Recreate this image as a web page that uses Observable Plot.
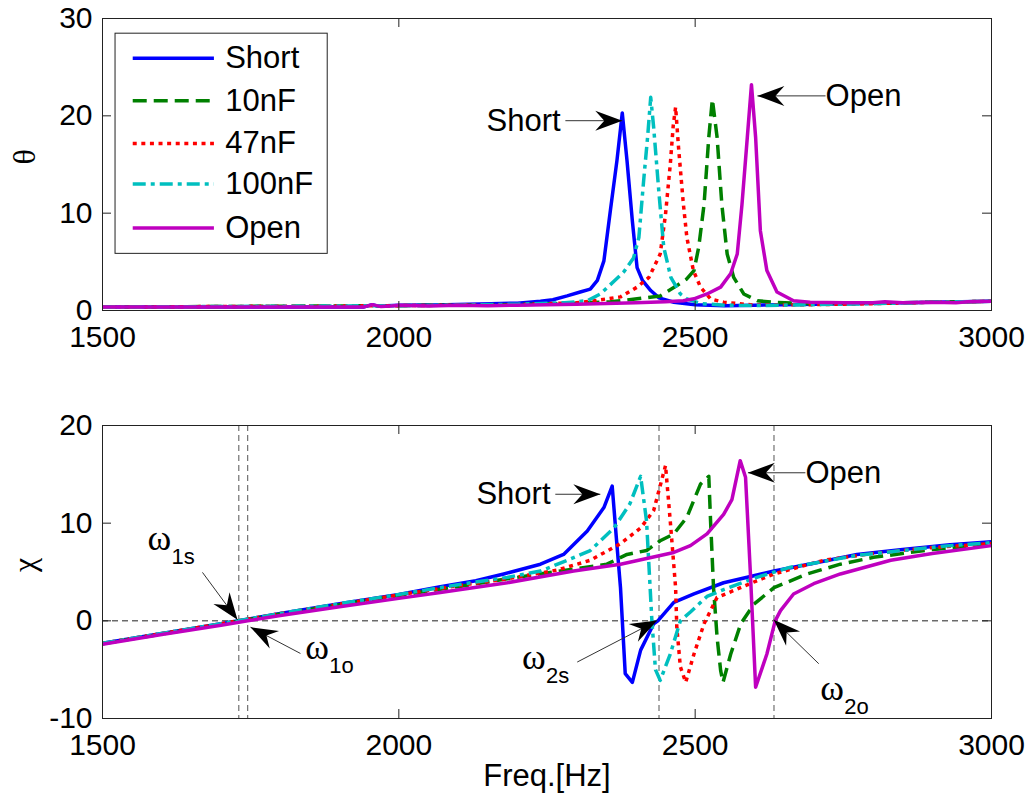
<!DOCTYPE html>
<html><head><meta charset="utf-8">
<script src="https://cdn.jsdelivr.net/npm/d3@7"></script>
<script src="https://cdn.jsdelivr.net/npm/@observablehq/plot@0.6"></script>
<style>
body{margin:0;background:#fff}
#chart{position:relative;width:1034px;height:809px;background:#fff}
#chart svg{display:block}
</style>
</head><body><div id="chart"></div>
<script>
// ---------- data ----------
const seriesNames = ["Short", "10nF", "47nF", "100nF", "Open"];
const xTicks = [1500, 2000, 2500, 3000];
const thetaTicks = [0, 10, 20, 30];
const chiTicks = [-10, 0, 10, 20];

// theta (top panel)
const thShortF = [1500,1940,1955,1965,1980,2000,2080,2155,2200,2239,2260,2284,2306,2323,2335,2346,2357,2368,2377,2385,2394,2402,2411,2425,2439,2464,2500,2550,2600,2650,2700,2800,2900,2950,3000];
const thShort  = [0.35,0.35,0.6,0.45,0.5,0.55,0.6,0.7,0.75,0.95,1.1,1.5,1.9,2.2,3.1,5.1,10.3,15.4,20.3,15.4,9.2,4.4,3.1,2.05,1.3,0.85,0.6,0.5,0.55,0.6,0.65,0.75,0.85,0.9,0.95];
const th10F = [1500,2000,2100,2200,2300,2357,2402,2441,2470,2485,2498,2506,2515,2523,2529,2537,2545,2554,2565,2582,2605,2632,2700,2800,2900,3000];
const th10  = [0.35,0.5,0.55,0.6,0.75,0.9,1.2,1.5,2.6,3.2,4.1,6.5,10.9,17.8,21.7,17.8,10.9,5.8,3.4,1.7,1.0,0.85,0.7,0.75,0.85,0.95];
const th47F = [1500,2000,2100,2200,2300,2329,2374,2402,2422,2441,2450,2458,2463,2467,2472,2480,2486,2497,2509,2526,2548,2600,2700,2800,2900,3000];
const th47  = [0.35,0.5,0.55,0.6,0.8,1.0,1.4,2.4,3.4,5.8,9.9,15,19,20.9,16.7,11,7.5,4.1,2.4,1.2,0.85,0.55,0.6,0.7,0.85,0.95];
const th100F = [1500,2000,2100,2200,2280,2318,2340,2363,2380,2396,2405,2413,2420,2425,2430,2439,2447,2459,2475,2486,2510,2550,2600,2700,2800,2900,3000];
const th100  = [0.35,0.5,0.55,0.65,0.8,1.0,1.7,3.0,4.0,5.4,7.5,13.3,18,21.9,18.8,12,6.5,3.4,1.7,1.2,0.7,0.55,0.5,0.6,0.7,0.85,0.95];
const thOpenF = [1500,1940,1955,1970,1985,2000,2050,2100,2150,2200,2300,2400,2450,2480,2498,2520,2543,2560,2571,2579,2588,2595,2602,2610,2621,2638,2666,2694,2750,2800,2820,2850,2900,2940,2960,3000];
const thOpen  = [0.35,0.35,0.6,0.4,0.45,0.55,0.45,0.55,0.5,0.55,0.65,0.8,0.9,1.0,1.2,1.7,2.4,3.8,5.8,10.9,17.8,23.2,17.8,8.2,4.1,1.9,1.0,0.85,0.8,0.8,0.9,0.8,0.85,0.8,0.9,0.95];

// chi (bottom panel)
const chShortF = [1500,1600,1700,1800,1900,2000,2070,2130,2177,2239,2278,2318,2346,2360,2367,2374,2382,2394,2408,2430,2437,2464,2498,2548,2633,2700,2773,2850,2930,3000];
const chShort  = [-2.3,-1.3,-0.3,0.75,1.75,2.7,3.5,4.1,4.8,5.8,6.8,9.2,11.6,13.8,8.5,3.4,-5.4,-6.3,-3.0,-0.3,0,1.9,2.75,3.9,5.1,5.9,6.8,7.3,7.8,8.1];
const ch10F = [1500,1600,1700,1800,1900,2000,2100,2183,2295,2351,2385,2418,2441,2464,2486,2509,2523,2526,2531,2537,2543,2547,2560,2577,2599,2633,2689,2745,2801,2900,3000];
const ch10  = [-2.35,-1.35,-0.35,0.7,1.65,2.6,3.5,4.3,5.3,5.8,6.8,7.2,8.2,8.9,10.6,14,14.8,10.2,3.4,-1.7,-5.1,-6.3,-3.4,-0.3,1.7,3.4,4.8,5.8,6.5,7.3,7.8];
const ch47F = [1500,1600,1700,1800,1900,2000,2100,2183,2267,2323,2374,2408,2430,2450,2458,2467,2469,2475,2484,2498,2515,2537,2565,2604,2633,2717,2800,2900,3000];
const ch47  = [-2.3,-1.3,-0.3,0.75,1.7,2.65,3.6,4.3,5.2,6.2,7.9,9.5,11.3,15.9,10.2,3.4,-0.65,-4.7,-6.3,-3.4,-0.3,2.4,3.1,4.1,4.8,6.2,6.9,7.5,7.9];
const ch100F = [1500,1600,1700,1800,1900,2000,2100,2183,2239,2284,2323,2363,2390,2408,2418,2427,2433,2441,2458,2475,2492,2520,2548,2604,2661,2700,2773,2850,2930,3000];
const ch100  = [-2.3,-1.3,-0.3,0.75,1.75,2.7,3.7,4.45,5.1,6.2,7.2,9.5,12,14.8,10.2,0,-5,-6.1,-3.4,0,0.9,2.5,3.2,4.45,5.5,5.9,6.7,7.2,7.7,8.0];
const chOpenF = [1500,1600,1700,1745,1800,1900,2000,2070,2183,2295,2374,2464,2492,2520,2548,2562,2576,2585,2593,2602,2621,2635,2644,2666,2700,2745,2830,2900,3000];
const chOpen  = [-2.4,-1.4,-0.45,0,0.55,1.45,2.3,2.9,3.9,5.1,5.8,7.0,7.7,8.9,10.9,12.4,16.4,14.7,5.1,-6.8,-3.4,0,1.05,2.75,3.8,4.8,6.2,6.9,7.7];

// resonance markers (Hz)
const omegaFreqs = [1730, 1745, 2439, 2633];

// annotations
const topNotes = [
  {label: "Short", x: 2273, y: 19.5, x1: 2281, y1: 19.5, x2: 2377, y2: 19.5, anchor: "end"},
  {label: "Open",  x: 2720, y: 22.05, x1: 2720, y1: 22.05, x2: 2605, y2: 22.05, anchor: "start"}
];
const botNotes = [
  {label: "Short", x: 2256, y: 12.96, x1: 2264, y1: 12.96, x2: 2340, y2: 12.96, anchor: "end"},
  {label: "Open",  x: 2686, y: 15.16, x1: 2686, y1: 15.16, x2: 2589, y2: 15.16, anchor: "start"}
];
const omegaNotes = [
  {sub: "1s", x: 1576, y: 7.24,  x1: 1668.7, y1: 4.96,  x2: 1727.8, y2: 0.1},
  {sub: "1o", x: 1842, y: -3.88, x1: 1834,   y1: -3.34, x2: 1749.7, y2: -0.65},
  {sub: "2s", x: 2208, y: -4.9,  x1: 2301,   y1: -4.22, x2: 2436,   y2: 0.03},
  {sub: "2o", x: 2711, y: -8.13, x1: 2708.5, y1: -4.39, x2: 2632.6, y2: 0.1}
];

// legend placement (data units of the top panel)
const legendBox = {x1: 1522, x2: 1880, y1: 28.44, y2: 5.82};
const legendRows = [25.92, 21.54, 17.16, 13.0, 8.48];
const legendLine = {x1: 1551, x2: 1688, xText: 1707};

// ---------- styles ----------
const colors = ["#0000FF", "#008000", "#FF0000", "#00BFBF", "#BF00BF"];
const dashes = [null, "14,7", "4,4.6", "13,5,4,5", null];
const LW = 3.5;
const xDomain = [1500, 3000];

const zip = (F, V) => F.map((f, i) => ({f, v: V[i]}));
const thetaData = [zip(thShortF, thShort), zip(th10F, th10), zip(th47F, th47), zip(th100F, th100), zip(thOpenF, thOpen)];
const chiData = [zip(chShortF, chShort), zip(ch10F, ch10), zip(ch47F, ch47), zip(ch100F, ch100), zip(chOpenF, chOpen)];

const W = 1034, ML = 102, MR = 43, TICK = 9;
const frameW = W - ML - MR;
const SANS = "'Liberation Sans', Arial, Helvetica, sans-serif";
const SERIF = "'Liberation Serif', 'Times New Roman', serif";

const arrowHead = {draw(ctx) {
  ctx.moveTo(0, 0); ctx.lineTo(-27, -10); ctx.lineTo(-18, 0); ctx.lineTo(-27, 10); ctx.closePath();
}};

function panel({height, mt, mb, yDomain, yTicks, ylabel, data, notes, omega, xlabel, legend}) {
  const frameH = height - mt - mb;
  const kx = frameW / (xDomain[1] - xDomain[0]);
  const ky = frameH / (yDomain[1] - yDomain[0]);
  const ang = d => Math.atan2(-(d.y2 - d.y1) * ky, (d.x2 - d.x1) * kx) * 180 / Math.PI;
  const marks = [];
  if (omega) {
    marks.push(Plot.ruleY([0], {stroke: "#222", strokeWidth: 1, strokeDasharray: "6,4"}));
    marks.push(Plot.ruleX(omegaFreqs, {x: d => d, stroke: "#555", strokeWidth: 1, strokeDasharray: "6,4"}));
  }
  data.forEach((d, i) => {
    marks.push(Plot.line(d, {x: "f", y: "v", stroke: colors[i], strokeWidth: LW,
      strokeDasharray: dashes[i] || undefined, strokeLinejoin: "round", strokeLinecap: "butt"}));
  });
  // annotations with arrows
  const allArrows = notes.concat(omega ? omegaNotes : []);
  marks.push(Plot.link(allArrows, {x1: "x1", y1: "y1", x2: "x2", y2: "y2", stroke: "#333", strokeWidth: 1}));
  marks.push(Plot.dot(allArrows, {x: "x2", y: "y2", symbol: arrowHead, rotate: ang, fill: "black", stroke: "none"}));
  marks.push(Plot.text(notes.filter(n => n.anchor === "end"), {x: "x", y: "y", text: "label", textAnchor: "end", fontSize: 31, fontFamily: SANS, fill: "black"}));
  marks.push(Plot.text(notes.filter(n => n.anchor === "start"), {x: "x", y: "y", text: "label", textAnchor: "start", fontSize: 31, fontFamily: SANS, fill: "black"}));
  if (omega) {
    marks.push(Plot.text(omegaNotes, {x: "x", y: "y", text: () => "ω", textAnchor: "start", lineAnchor: "bottom", fontSize: 36, fontFamily: SERIF, fill: "black"}));
    marks.push(Plot.text(omegaNotes, {x: "x", y: "y", text: "sub", dx: 24, dy: 14, textAnchor: "start", lineAnchor: "bottom", fontSize: 22, fontFamily: SANS, fill: "black"}));
  }
  if (legend) {
    marks.push(Plot.rect([legendBox], {x1: "x1", x2: "x2", y1: "y1", y2: "y2", fill: "white", stroke: "#222", strokeWidth: 1}));
    seriesNames.forEach((name, i) => {
      marks.push(Plot.link([{y: legendRows[i]}], {x1: legendLine.x1, x2: legendLine.x2, y1: "y", y2: "y", stroke: colors[i], strokeWidth: LW, strokeDasharray: dashes[i] || undefined}));
    });
    marks.push(Plot.text(seriesNames, {x: legendLine.xText, y: (d, i) => legendRows[i], text: d => d, textAnchor: "start", fontSize: 31, fontFamily: SANS, fill: "black"}));
  }
  // frame + inward ticks on all sides
  marks.push(Plot.frame({stroke: "#222", strokeWidth: 1}));
  marks.push(Plot.tickX(xTicks, {x: d => d, insetTop: frameH - TICK, stroke: "#222"}));
  marks.push(Plot.tickX(xTicks, {x: d => d, insetBottom: frameH - TICK, stroke: "#222"}));
  marks.push(Plot.tickY(yTicks, {y: d => d, insetRight: frameW - TICK, stroke: "#222"}));
  marks.push(Plot.tickY(yTicks, {y: d => d, insetLeft: frameW - TICK, stroke: "#222"}));
  marks.push(Plot.axisX(xTicks, {tickSize: 0, tickPadding: 15, tickFormat: d => String(d), label: null, fontSize: 30}));
  marks.push(Plot.axisY(yTicks, {tickSize: 0, tickPadding: 10, tickFormat: d => String(d), label: null, fontSize: 30}));
  marks.push(Plot.text([ylabel], {frameAnchor: "left", dx: -78, rotate: -90, text: d => d, fontSize: 32, fontFamily: SERIF, fill: "black"}));
  if (xlabel) {
    marks.push(Plot.text([xlabel], {frameAnchor: "bottom", dy: 67, text: d => d, fontSize: 31, fontFamily: SANS, fill: "black"}));
  }
  return Plot.plot({
    width: W, height, marginLeft: ML, marginRight: MR, marginTop: mt, marginBottom: mb,
    x: {domain: xDomain}, y: {domain: yDomain},
    style: {fontFamily: SANS, fontSize: "30px", background: "white", color: "black", overflow: "visible"},
    marks
  });
}

const chart = document.getElementById("chart");
chart.append(panel({height: 370, mt: 18, mb: 60, yDomain: [0, 30], yTicks: thetaTicks, ylabel: "θ",
  data: thetaData, notes: topNotes, omega: false, legend: true}));
chart.append(panel({height: 439, mt: 55, mb: 91, yDomain: [-10, 20], yTicks: chiTicks, ylabel: "χ",
  data: chiData, notes: botNotes, omega: true, xlabel: "Freq.[Hz]"}));
</script></body></html>
